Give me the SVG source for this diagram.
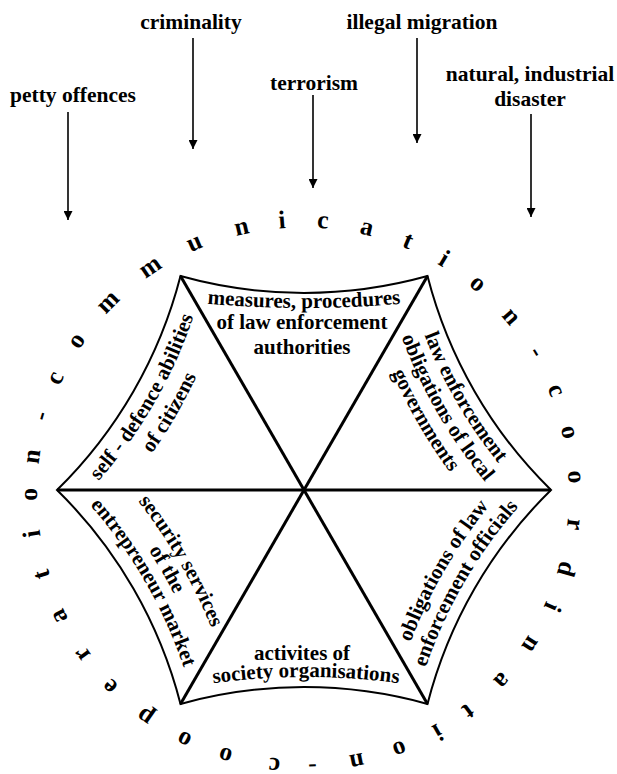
<svg xmlns="http://www.w3.org/2000/svg" xmlns:xlink="http://www.w3.org/1999/xlink" width="617" height="774" viewBox="0 0 617 774">
<style>
text{font-family:"Liberation Serif","Times New Roman",serif;font-weight:bold;fill:#000}
.lbl{font-size:21.5px;text-anchor:middle}
.in{font-size:21px;text-anchor:middle}
.ring{font-size:25.5px;text-anchor:middle}
.edge{fill:none;stroke:#000;stroke-width:2;stroke-linejoin:miter}
.spoke{stroke:#000;stroke-width:3}
.arrow{stroke:#000;stroke-width:1.6;marker-end:url(#ah)}
</style>
<defs>
<marker id="ah" markerUnits="userSpaceOnUse" markerWidth="10" markerHeight="9" refX="9" refY="4.5" orient="auto">
<path d="M0,0 L9,4.5 L0,9 Z" fill="#000"/>
</marker>
<path id="pTop1" d="M 190 302 Q 304 314 418 302"/>
<path id="pBot2" d="M 195 686 Q 306 668 417 686"/>
<path id="pTL1" d="M 58.9 521.2 A 484 484 0 0 0 208.4 262.1"/>
<path id="pTL2" d="M 75.6 539.7 A 509 509 0 0 0 232.9 267.3"/>
<path id="pTR1" d="M 402.5 261.5 A 481 481 0 0 0 551.2 518.9"/>
<path id="pTR2" d="M 381.0 266.1 A 503 503 0 0 0 536.4 535.3"/>
<path id="pTR3" d="M 359.5 270.6 A 525 525 0 0 0 521.7 551.6"/>
<path id="pBR1" d="M 388.8 715.6 A 495 495 0 0 1 541.8 450.7"/>
<path id="pBR2" d="M 411.3 720.4 A 472 472 0 0 1 557.2 467.8"/>
<path id="pBL1" d="M 78.2 437.3 A 513 513 0 0 1 236.8 711.8"/>
<path id="pBL2" d="M 64.9 452.2 A 493 493 0 0 1 217.2 716.0"/>
<path id="pBL3" d="M 51.8 466.6 A 473.5 473.5 0 0 1 198.1 720.1"/>
</defs>
<rect width="617" height="774" fill="#fff"/>

<g id="label-petty-offences"><text class="lbl" x="73" y="102">petty offences</text></g>
<g id="label-criminality"><text class="lbl" x="191" y="29">criminality</text></g>
<g id="label-terrorism"><text class="lbl" x="314" y="90">terrorism</text></g>
<g id="label-illegal-migration"><text class="lbl" x="422" y="29">illegal migration</text></g>
<g id="label-disaster"><text class="lbl" x="530" y="81">natural, industrial</text><text class="lbl" x="530" y="106">disaster</text></g>

<g id="connectors">
<line class="arrow" x1="68" y1="112" x2="68" y2="220"/>
<line class="arrow" x1="193" y1="38" x2="193" y2="149"/>
<line class="arrow" x1="313" y1="95" x2="313" y2="188"/>
<line class="arrow" x1="417" y1="38" x2="417" y2="143"/>
<line class="arrow" x1="531" y1="114" x2="531" y2="217"/>
</g>

<g id="hexagon">
<path class="edge" d="M 180.5 276 A 460 460 0 0 0 427.5 276 A 460 460 0 0 0 551 490 A 460 460 0 0 0 427.5 704 A 460 460 0 0 0 180.5 704 A 460 460 0 0 0 57 490 A 460 460 0 0 0 180.5 276 Z"/>
<line class="spoke" x1="180.5" y1="276" x2="427.5" y2="704"/>
<line class="spoke" x1="427.5" y1="276" x2="180.5" y2="704"/>
<line class="spoke" x1="57" y1="490" x2="551" y2="490"/>
</g>

<g id="sector-law-enforcement-authorities">
<text class="in"><textPath href="#pTop1" xlink:href="#pTop1" startOffset="50%">measures, procedures</textPath></text>
<text class="in" x="302" y="329">of law enforcement</text>
<text class="in" x="302" y="354">authorities</text>
</g>
<g id="sector-local-governments">
<text class="in"><textPath href="#pTR1" xlink:href="#pTR1" startOffset="50%">law enforcement</textPath></text>
<text class="in"><textPath href="#pTR2" xlink:href="#pTR2" startOffset="50%">obligations of local</textPath></text>
<text class="in"><textPath href="#pTR3" xlink:href="#pTR3" startOffset="50%">governments</textPath></text>
</g>
<g id="sector-law-enforcement-officials">
<text class="in"><textPath href="#pBR1" xlink:href="#pBR1" startOffset="50%">obligations of law</textPath></text>
<text class="in"><textPath href="#pBR2" xlink:href="#pBR2" startOffset="50%">enforcement officials</textPath></text>
</g>
<g id="sector-society-organisations">
<text class="in" x="302" y="660">activites of</text>
<text class="in"><textPath href="#pBot2" xlink:href="#pBot2" startOffset="50%">society organisations</textPath></text>
</g>
<g id="sector-entrepreneur-market">
<text class="in"><textPath href="#pBL1" xlink:href="#pBL1" startOffset="50%">security services</textPath></text>
<text class="in"><textPath href="#pBL2" xlink:href="#pBL2" startOffset="50%">of the</textPath></text>
<text class="in"><textPath href="#pBL3" xlink:href="#pBL3" startOffset="50%">entrepreneur market</textPath></text>
</g>
<g id="sector-self-defence">
<text class="in"><textPath href="#pTL1" xlink:href="#pTL1" startOffset="50%">self - defence abilities</textPath></text>
<text class="in"><textPath href="#pTL2" xlink:href="#pTL2" startOffset="50%">of citizens</textPath></text>
</g>

<g id="ring-text">
<text class="ring" x="303" y="227.5" transform="rotate(-65 303 493.5)">c</text>
<text class="ring" x="303" y="227.5" transform="rotate(-56 303 493.5)">o</text>
<text class="ring" x="303" y="227.5" transform="rotate(-45.5 303 493.5)">m</text>
<text class="ring" x="303" y="227.5" transform="rotate(-34 303 493.5)">m</text>
<text class="ring" x="303" y="227.5" transform="rotate(-23.4 303 493.5)">u</text>
<text class="ring" x="303" y="227.5" transform="rotate(-13 303 493.5)">n</text>
<text class="ring" x="303" y="227.5" transform="rotate(-4.4 303 493.5)">i</text>
<text class="ring" x="303" y="227.5" transform="rotate(4.2 303 493.5)">c</text>
<text class="ring" x="303" y="227.5" transform="rotate(13.5 303 493.5)">a</text>
<text class="ring" x="303" y="227.5" transform="rotate(22.6 303 493.5)">t</text>
<text class="ring" x="303" y="227.5" transform="rotate(31 303 493.5)">i</text>
<text class="ring" x="303" y="227.5" transform="rotate(39.8 303 493.5)">o</text>
<text class="ring" x="303" y="227.5" transform="rotate(49.6 303 493.5)">n</text>
<text class="ring" x="303" y="227.5" transform="rotate(58.8 303 493.5)">-</text>
<text class="ring" x="303" y="227.5" transform="rotate(67.8 303 493.5)">c</text>
<text class="ring" x="303" y="227.5" transform="rotate(77 303 493.5)">o</text>
<text class="ring" x="303" y="227.5" transform="rotate(86.5 303 493.5)">o</text>
<text class="ring" x="303" y="227.5" transform="rotate(96.5 303 493.5)">r</text>
<text class="ring" x="303" y="227.5" transform="rotate(106 303 493.5)">d</text>
<text class="ring" x="303" y="227.5" transform="rotate(114.5 303 493.5)">i</text>
<text class="ring" x="303" y="227.5" transform="rotate(123.5 303 493.5)">n</text>
<text class="ring" x="303" y="227.5" transform="rotate(133.2 303 493.5)">a</text>
<text class="ring" x="303" y="227.5" transform="rotate(142.8 303 493.5)">t</text>
<text class="ring" x="303" y="227.5" transform="rotate(150.5 303 493.5)">i</text>
<text class="ring" x="303" y="227.5" transform="rotate(159.3 303 493.5)">o</text>
<text class="ring" x="303" y="227.5" transform="rotate(168.6 303 493.5)">n</text>
<text class="ring" x="303" y="227.5" transform="rotate(178 303 493.5)">-</text>
<text class="ring" x="303" y="227.5" transform="rotate(186 303 493.5)">c</text>
<text class="ring" x="303" y="227.5" transform="rotate(196.5 303 493.5)">o</text>
<text class="ring" x="303" y="227.5" transform="rotate(205.8 303 493.5)">o</text>
<text class="ring" x="303" y="227.5" transform="rotate(215.3 303 493.5)">p</text>
<text class="ring" x="303" y="227.5" transform="rotate(225 303 493.5)">e</text>
<text class="ring" x="303" y="227.5" transform="rotate(234 303 493.5)">r</text>
<text class="ring" x="303" y="227.5" transform="rotate(243.3 303 493.5)">a</text>
<text class="ring" x="303" y="227.5" transform="rotate(252.8 303 493.5)">t</text>
<text class="ring" x="303" y="227.5" transform="rotate(261.5 303 493.5)">i</text>
<text class="ring" x="303" y="227.5" transform="rotate(269.8 303 493.5)">o</text>
<text class="ring" x="303" y="227.5" transform="rotate(277.8 303 493.5)">n</text>
<text class="ring" x="303" y="227.5" transform="rotate(286.5 303 493.5)">-</text>
</g>
</svg>
